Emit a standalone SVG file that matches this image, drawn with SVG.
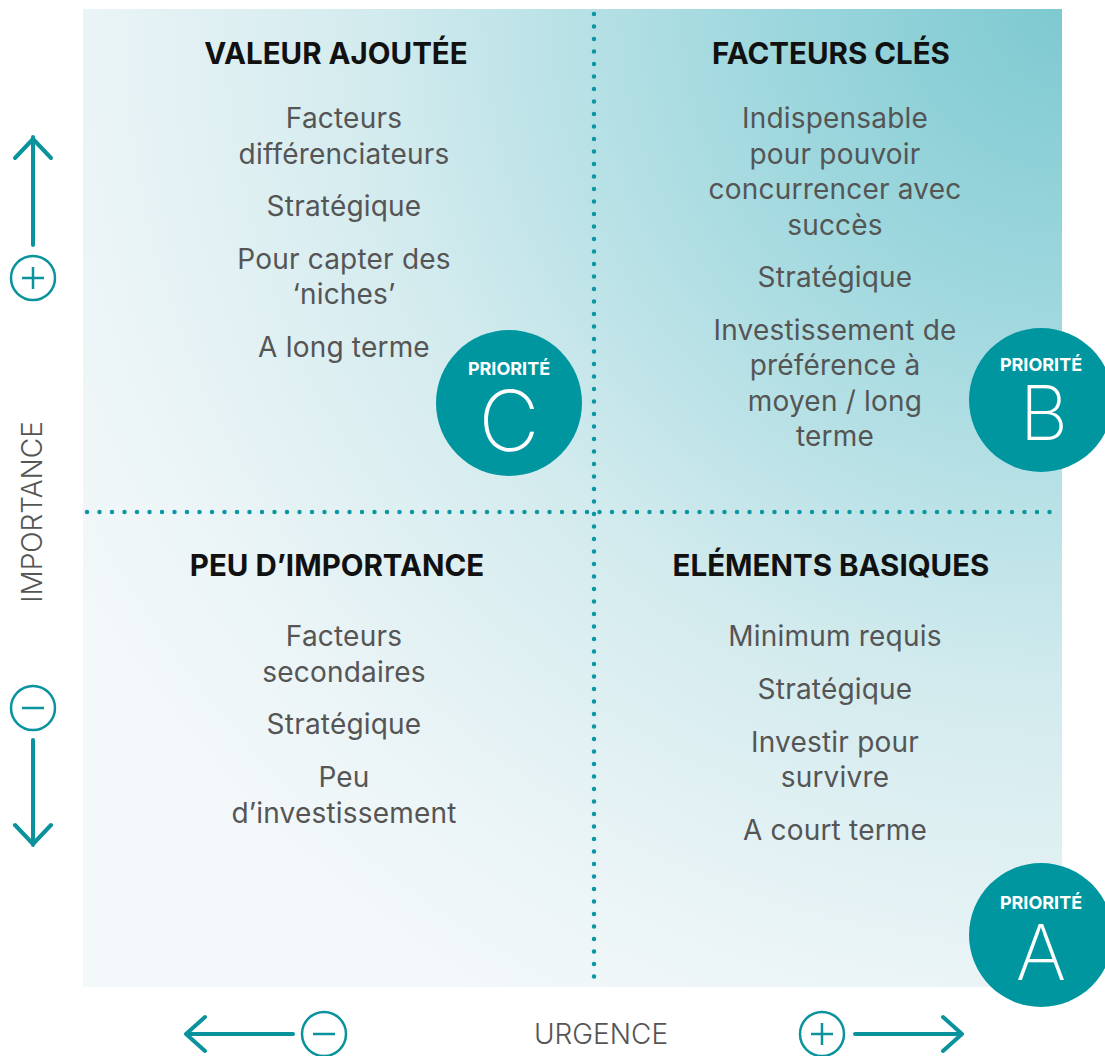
<svg xmlns="http://www.w3.org/2000/svg" width="1105" height="1056" viewBox="0 0 1105 1056">
  <defs>
    <radialGradient id="bg" gradientUnits="userSpaceOnUse" cx="1062" cy="9" r="1150">
      <stop offset="0" stop-color="#7ec9d1"/>
      <stop offset="0.3" stop-color="#a4dae0"/>
      <stop offset="0.6" stop-color="#d3ebee"/>
      <stop offset="0.85" stop-color="#eaf4f6"/>
      <stop offset="1" stop-color="#f3f8fa"/>
    </radialGradient>
    <style>
      .title { font-family: Inter, "Liberation Sans", sans-serif; font-weight: 700; font-size: 29.5px; fill: #111; text-anchor: middle; }
      .body { font-family: Inter, "Liberation Sans", sans-serif; font-weight: 400; font-size: 28px; fill: #555; text-anchor: middle; letter-spacing: 0.2px; }
      .axis { font-family: Inter, "Liberation Sans", sans-serif; font-weight: 300; font-size: 28px; fill: #555; text-anchor: middle; }
      .dots { stroke: #0a97a3; stroke-width: 4.5; stroke-linecap: round; stroke-dasharray: 0 12.5; fill: none; }
      .badge { fill: #0096a0; }
      .plabel { font-family: Inter, "Liberation Sans", sans-serif; font-weight: 700; font-size: 18px; fill: #fff; text-anchor: middle; }
      .pletter { font-family: Inter, "Liberation Sans", sans-serif; font-weight: 200; fill: #fff; text-anchor: middle; }
      .arr { stroke: #0a939d; stroke-width: 4; stroke-linecap: round; stroke-linejoin: round; fill: none; }
      .sign { stroke: #0a939d; stroke-width: 2.5; fill: none; }
    </style>
  </defs>

  <!-- matrix background -->
  <rect x="83" y="9" width="979" height="978" fill="url(#bg)"/>

  <!-- quadrant dividers -->
  <g id="connectors">
    <line class="dots" x1="594" y1="14" x2="594" y2="989"/>
    <line class="dots" x1="87" y1="512" x2="1062" y2="512"/>
  </g>

  <!-- top-left quadrant -->
  <g id="valeur-ajoutee">
    <text class="title" x="336" y="64">VALEUR AJOUTÉE</text>
    <text class="body" x="344" y="128">Facteurs</text>
    <text class="body" x="344" y="164">différenciateurs</text>
    <text class="body" x="344" y="216">Stratégique</text>
    <text class="body" x="344" y="269">Pour capter des</text>
    <text class="body" x="344" y="304">‘niches’</text>
    <text class="body" x="344" y="357">A long terme</text>
  </g>

  <!-- top-right quadrant -->
  <g id="facteurs-cles">
    <text class="title" x="831" y="64">FACTEURS CLÉS</text>
    <text class="body" x="835" y="128">Indispensable</text>
    <text class="body" x="835" y="164">pour pouvoir</text>
    <text class="body" x="835" y="199">concurrencer avec</text>
    <text class="body" x="835" y="235">succès</text>
    <text class="body" x="835" y="287">Stratégique</text>
    <text class="body" x="835" y="340">Investissement de</text>
    <text class="body" x="835" y="375">préférence à</text>
    <text class="body" x="835" y="411">moyen / long</text>
    <text class="body" x="835" y="446">terme</text>
  </g>

  <!-- bottom-left quadrant -->
  <g id="peu-importance">
    <text class="title" x="337" y="576">PEU D’IMPORTANCE</text>
    <text class="body" x="344" y="646">Facteurs</text>
    <text class="body" x="344" y="682">secondaires</text>
    <text class="body" x="344" y="734">Stratégique</text>
    <text class="body" x="344" y="787">Peu</text>
    <text class="body" x="344" y="823">d’investissement</text>
  </g>

  <!-- bottom-right quadrant -->
  <g id="elements-basiques">
    <text class="title" x="831" y="576">ELÉMENTS BASIQUES</text>
    <text class="body" x="835" y="646">Minimum requis</text>
    <text class="body" x="835" y="699">Stratégique</text>
    <text class="body" x="835" y="752">Investir pour</text>
    <text class="body" x="835" y="787">survivre</text>
    <text class="body" x="835" y="840">A court terme</text>
  </g>

  <!-- priority badges -->
  <g id="priorite-c">
    <circle class="badge" cx="509" cy="403" r="73"/>
    <text class="plabel" x="509" y="375">PRIORITÉ</text>
    <text class="pletter" x="509" y="451" font-size="84">C</text>
  </g>
  <g id="priorite-b">
    <circle class="badge" cx="1041" cy="400" r="72"/>
    <text class="plabel" x="1041" y="371">PRIORITÉ</text>
    <text class="pletter" x="1044" y="440" font-size="75">B</text>
  </g>
  <g id="priorite-a">
    <circle class="badge" cx="1041" cy="935" r="72"/>
    <text class="plabel" x="1041" y="909">PRIORITÉ</text>
    <text class="pletter" x="1041" y="980" font-size="77">A</text>
  </g>

  <!-- vertical axis: importance -->
  <g id="axis-importance">
    <path class="arr" d="M33 245 V137 M15 158 L33 139 L51 158"/>
    <circle class="sign" cx="33" cy="278" r="22"/>
    <path class="sign" d="M22 278 H44 M33 267 V289"/>
    <text class="axis" transform="translate(42 512) rotate(-90)" x="0" y="0">IMPORTANCE</text>
    <circle class="sign" cx="33" cy="708" r="22"/>
    <path class="sign" d="M22 708 H44"/>
    <path class="arr" d="M33 740 V845 M15 825 L33 844 L51 825"/>
  </g>

  <!-- horizontal axis: urgence -->
  <g id="axis-urgence">
    <path class="arr" d="M293 1034 H187 M205 1017 L186 1034 L205 1051"/>
    <circle class="sign" cx="324" cy="1034" r="22"/>
    <path class="sign" d="M313 1034 H335"/>
    <text class="axis" x="601" y="1044">URGENCE</text>
    <circle class="sign" cx="822" cy="1034" r="22"/>
    <path class="sign" d="M811 1034 H833 M822 1023 V1045"/>
    <path class="arr" d="M855 1034 H961 M943 1017 L962 1034 L943 1051"/>
  </g>
</svg>
